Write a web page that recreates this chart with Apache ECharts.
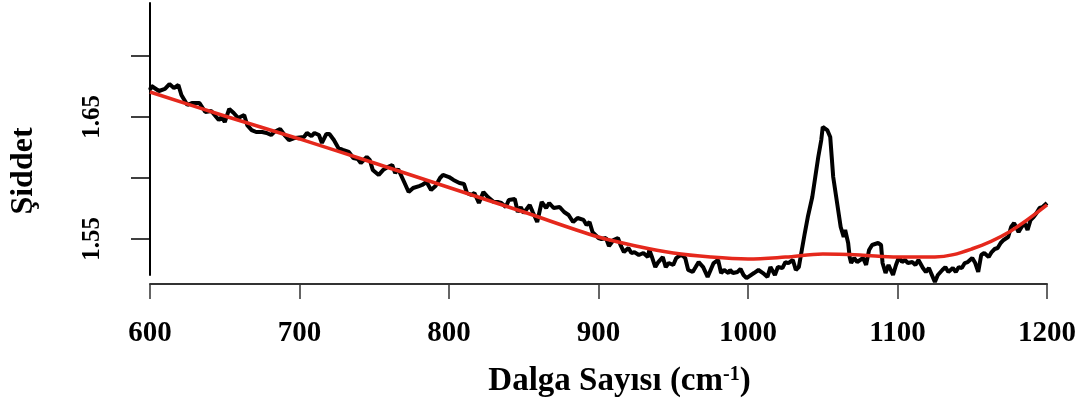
<!DOCTYPE html>
<html>
<head>
<meta charset="utf-8">
<script src="https://cdn.jsdelivr.net/npm/echarts@6/dist/echarts.min.js"></script>
<style>
html,body{margin:0;padding:0;background:#fff;}
#chart{width:1089px;height:410px;}
</style>
</head>
<body>
<div id="chart"></div>
<script>
// Measured spectrum (wavenumber, intensity)
const waveNumber = [600,601,606,610,613,616,619,621,625,628,633,637,641,646,648,650,653,656,659,663,665,668,671,675,678,681,683,687,690,693,697,
703,705,708,710,713,715,718,720,723,726,729,733,736,739,741,745,747,749,753,756,759,762,764,766,770,773,776,780,782,785,788,791,794,796,800,
803,807,810,812,815,817,820,823,826,830,833,835,838,840,844,846,848,850,854,856,859,862,865,867,870,874,877,880,883,886,890,892,894,896,900,
902,905,907,910,913,915,917,920,922,924,927,930,933,934,936,938,940,943,945,947,950,952,954,956,958,960,963,965,967,970,973,975,977,980,982,984,987,988,990,993,995,997,999,
1004,1007,1010,1013,1015,1018,1020,1023,1025,1027,1030,1032,1034,1036,1038,1040,1043,1045,1047,1049,1050,1053,1055,1056,1057,1059,1061,1062,1064,1065,1067,1068,1069,1071,1073,1075,1077,1079,1081,1083,1087,1089,1090,1092,1094,1097,1099,1101,
1103,1105,1107,1110,1112,1114,1117,1119,1121,1123,1125,1127,1130,1132,1134,1137,1139,1141,1143,1145,1147,1150,1152,1154,1156,1158,1161,1163,1165,1167,1169,1171,1174,1176,1178,1181,1183,1185,1187,1189,1191,1193,1195,1197,1200];
const intensity = [1.6721,1.6754,1.6713,1.6730,1.6770,1.6738,1.6762,1.6680,1.6598,1.6615,1.6615,1.6541,1.6549,1.6475,1.6500,1.6459,1.6566,1.6533,1.6492,1.6516,1.6434,1.6393,1.6377,1.6377,1.6369,1.6352,1.6377,1.6402,1.6352,1.6311,1.6328,
1.6336,1.6369,1.6344,1.6369,1.6352,1.6287,1.6361,1.6361,1.6311,1.6246,1.6230,1.6213,1.6164,1.6156,1.6123,1.6172,1.6148,1.6066,1.6025,1.6066,1.6090,1.6107,1.6041,1.6074,1.5967,1.5885,1.5918,1.5934,1.5943,1.5967,1.5902,1.5934,1.6000,1.6025,1.6008,
1.5984,1.5959,1.5951,1.5877,1.5861,1.5877,1.5795,1.5885,1.5844,1.5803,1.5803,1.5795,1.5762,1.5820,1.5828,1.5721,1.5762,1.5713,1.5779,1.5721,1.5639,1.5803,1.5754,1.5795,1.5754,1.5762,1.5721,1.5697,1.5639,1.5672,1.5656,1.5615,1.5639,1.5557,1.5508,
1.5500,1.5508,1.5443,1.5492,1.5508,1.5443,1.5393,1.5426,1.5385,1.5393,1.5369,1.5385,1.5352,1.5410,1.5344,1.5270,1.5311,1.5352,1.5270,1.5303,1.5287,1.5344,1.5361,1.5369,1.5344,1.5246,1.5230,1.5270,1.5311,1.5270,1.5189,1.5246,1.5303,1.5328,1.5221,1.5246,1.5221,1.5246,1.5221,1.5230,1.5254,1.5205,1.5180,
1.5221,1.5246,1.5221,1.5189,1.5270,1.5205,1.5270,1.5262,1.5311,1.5303,1.5328,1.5246,1.5270,1.5410,1.5549,1.5680,1.5844,1.6008,1.6172,1.6311,1.6418,1.6393,1.6336,1.6172,1.6008,1.5844,1.5680,1.5598,1.5516,1.5574,1.5467,1.5352,1.5303,1.5344,1.5311,1.5328,1.5344,1.5287,1.5410,1.5451,1.5467,1.5451,1.5303,1.5221,1.5287,1.5205,1.5287,1.5352,
1.5311,1.5328,1.5303,1.5311,1.5287,1.5328,1.5262,1.5230,1.5262,1.5205,1.5148,1.5205,1.5246,1.5270,1.5230,1.5262,1.5230,1.5270,1.5262,1.5303,1.5311,1.5344,1.5303,1.5230,1.5369,1.5385,1.5352,1.5393,1.5418,1.5426,1.5467,1.5492,1.5516,1.5598,1.5631,1.5557,1.5598,1.5631,1.5574,1.5656,1.5680,1.5713,1.5754,1.5762,1.5795];

// Smooth baseline fit
const fitX = [600,650,700,750,800,850,900,925,950,975,1000,1025,1050,1075,1100,1125,1150,1175,1200];
const fitY = [1.6705,1.6508,1.6320,1.6123,1.5922,1.5721,1.5516,1.5443,1.5385,1.5352,1.5336,1.5352,1.5377,1.5369,1.5352,1.5352,1.5420,1.5560,1.5779];

// Axis ticks
const xTicks = [600,700,800,900,1000,1100,1200];
const yTickValues = [1.55,1.60,1.65,1.70];
const yLabelValues = [1.55,1.65];

const xName = 'Dalga Sayısı (cm';
const xNameSup = '-1';
const yName = 'Şiddet';

const serif = '"Liberation Serif","Times New Roman",serif';

const spectrum = waveNumber.map((x, i) => [x, intensity[i]]);
const fit = fitX.map((x, i) => [x, fitY[i]]);

const chart = echarts.init(document.getElementById('chart'), null, {renderer: 'canvas'});
chart.setOption({
  animation: false,
  backgroundColor: '#ffffff',
  grid: {left: 148, right: 42, top: 3, bottom: 135, containLabel: false},
  xAxis: {
    type: 'value',
    min: xTicks[0],
    max: xTicks[xTicks.length - 1],
    interval: 100,
    offset: 9,
    axisLine: {show: true, onZero: false, lineStyle: {color: '#333', width: 2}},
    axisTick: {show: true, length: 15, lineStyle: {color: '#333', width: 1.5}},
    splitLine: {show: false},
    axisLabel: {
      margin: 35,
      formatter: v => String(v),
      color: '#000',
      fontFamily: serif,
      fontWeight: 'bold',
      fontSize: 29
    },
    name: '{b|' + xName + '}{s|' + xNameSup + '}{b|)}',
    nameLocation: 'middle',
    nameGap: 81,
    nameTextStyle: {
      padding: [0, 0, 0, 42],
      rich: {
        b: {fontFamily: serif, fontWeight: 'bold', fontSize: 33, color: '#000'},
        s: {fontFamily: serif, fontWeight: 'bold', fontSize: 20, color: '#000', verticalAlign: 'top', padding: [0, 0, 12, 0]}
      }
    }
  },
  yAxis: {
    type: 'value',
    min: 1.52049,
    max: 1.74344,
    axisLine: {show: true, onZero: false, lineStyle: {color: '#000', width: 2}},
    axisTick: {show: true, length: 19, customValues: yTickValues, lineStyle: {color: '#000', width: 1.5}},
    splitLine: {show: false},
    axisLabel: {
      customValues: yLabelValues,
      formatter: v => v.toFixed(2),
      rotate: 90,
      margin: 45,
      color: '#000',
      fontFamily: serif,
      fontWeight: 'bold',
      fontSize: 25
    },
    name: yName,
    nameLocation: 'middle',
    nameGap: 110,
    nameTextStyle: {
      fontFamily: serif, fontWeight: 'bold', fontSize: 32, color: '#000',
      padding: [0, 64, 0, 0]
    }
  },
  series: [
    {
      type: 'line',
      data: spectrum,
      showSymbol: false,
      clip: false,
      lineStyle: {color: '#000', width: 4},
      z: 2
    },
    {
      type: 'line',
      data: fit,
      smooth: 0.35,
      showSymbol: false,
      clip: false,
      lineStyle: {color: '#e5281c', width: 3.5},
      z: 3
    }
  ]
});
</script>
</body>
</html>
